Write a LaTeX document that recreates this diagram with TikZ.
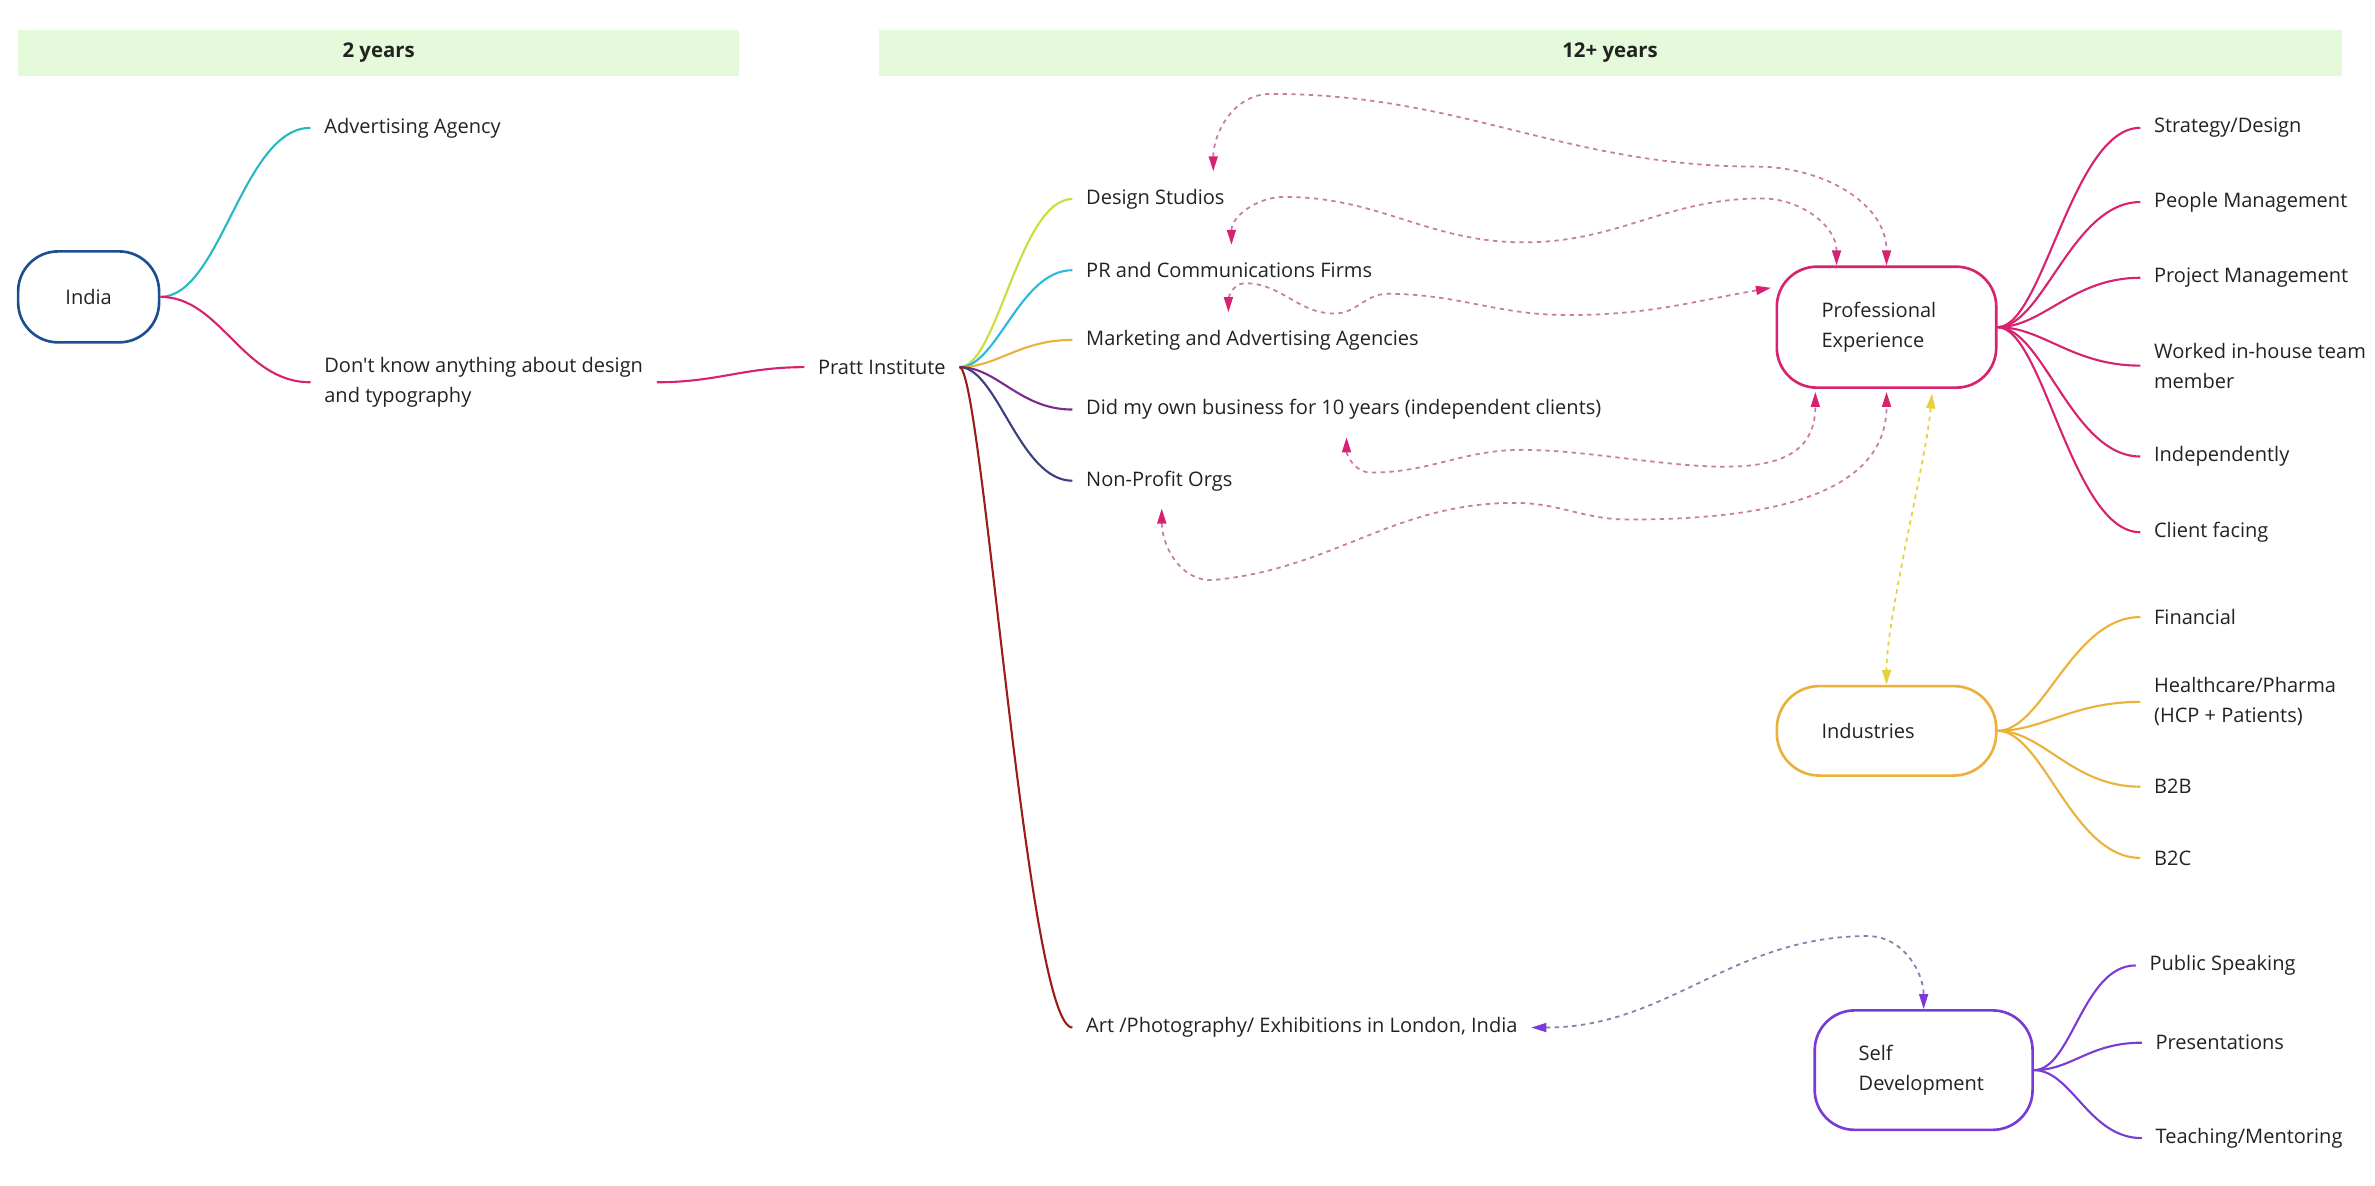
\documentclass[tikz,border=0pt]{standalone}
\usepackage{fontspec}
\setmainfont{Open Sans}[Ligatures=TeXOff]
\usetikzlibrary{arrows.meta,calc}

\definecolor{barfill}{HTML}{E4FADA}
\definecolor{indiablue}{HTML}{1B4F8F}
\definecolor{adcyan}{HTML}{27B9C2}
\definecolor{hotpink}{HTML}{D6226F}
\definecolor{limegreen}{HTML}{C6DF3C}
\definecolor{prcyan}{HTML}{2DB7DB}
\definecolor{amber}{HTML}{EBB13A}
\definecolor{plum}{HTML}{7B2B8E}
\definecolor{navyblue}{HTML}{3C3F7E}
\definecolor{artred}{HTML}{9B1C1C}
\definecolor{sdviolet}{HTML}{7A3BD4}
\definecolor{dashpink}{HTML}{C97AA8}
\definecolor{dashgold}{HTML}{E8CF3C}
\definecolor{dashviolet}{HTML}{8C7BAA}
\definecolor{ink}{HTML}{222222}

\tikzset{
  yearbar/.style={fill=barfill,minimum height=0.91cm,text=ink,
    font=\fontsize{11.6}{13}\selectfont\bfseries},
  leaf/.style={anchor=west,align=left,inner xsep=0.27cm,inner ysep=3pt,text=ink,yshift=-1.2pt},
  pill/.style={draw,line width=1.5pt,rounded corners=0.8cm,text=ink},
  hub/.style={pill,minimum width=4.39cm,minimum height=2.42cm,text width=2.6cm,align=left},
  branch/.style={line width=1.2pt},
  link/.style={dashpink,line width=1pt,dash pattern=on 2.5pt off 2.5pt,
    >={Triangle[length=3mm,width=1.8mm,color=hotpink]},<->},
  linkgold/.style={link,dashgold,>={Triangle[length=3mm,width=1.8mm,color=dashgold]}},
  linkviolet/.style={link,dashviolet,>={Triangle[length=3mm,width=1.8mm,color=sdviolet]}},
}

\begin{document}
\begin{tikzpicture}[x=0.0303cm,y=0.0303cm,font=\fontsize{11.4}{17}\selectfont]
\useasboundingbox (0,0) rectangle (1568,-783);
% year bands
\node[yearbar,minimum width=14.42cm] (band1) at (250,-35) {2 years};
\node[yearbar,minimum width=29.27cm] (band2) at (1063,-35) {12+ years};

% India
\node[pill,draw=indiablue,minimum width=2.82cm,minimum height=1.82cm] (india) at (58.5,-196) {India};
\node[leaf] (adv) at (205,-83) {Advertising Agency};
\node[leaf] (dk) at (205,-251) {Don't know anything about design\\and typography};
\draw[branch,adcyan] (india.east) .. controls +(40,0) and +(-45,0) .. (adv.west);
\draw[branch,hotpink] (india.east) .. controls +(40,0) and +(-45,0) .. (dk.west);

% Pratt
\node[leaf] (pratt) at (531,-241) {Pratt Institute};
\draw[branch,hotpink] (dk.east) .. controls +(40,0) and +(-40,0) .. (pratt.west);
\node[leaf] (ds) at (708,-130) {Design Studios};
\node[leaf] (pr) at (708,-177) {PR and Communications Firms};
\node[leaf] (mkt) at (708,-223) {Marketing and Advertising Agencies};
\node[leaf] (biz) at (708,-269) {Did my own business for 10 years (independent clients)};
\node[leaf] (np) at (708,-316) {Non-Profit Orgs};
\node[leaf] (art) at (708,-677) {Art /Photography/ Exhibitions in London, India};
\draw[branch,limegreen] (pratt.east) .. controls +(25,0) and +(-35,0) .. (ds.west);
\draw[branch,prcyan] (pratt.east) .. controls +(25,0) and +(-35,0) .. (pr.west);
\draw[branch,amber] (pratt.east) .. controls +(25,0) and +(-35,0) .. (mkt.west);
\draw[branch,plum] (pratt.east) .. controls +(25,0) and +(-35,0) .. (biz.west);
\draw[branch,navyblue] (pratt.east) .. controls +(25,0) and +(-35,0) .. (np.west);
\draw[branch,artred] (pratt.east) .. controls +(15,0) and +(-30,0) .. (art.west);

% Professional Experience
\node[hub,draw=hotpink] (pe) at (1245.5,-216) {Professional\\Experience};
\node[leaf] (strat) at (1413,-83) {Strategy/Design};
\node[leaf] (people) at (1413,-132) {People Management};
\node[leaf] (proj) at (1413,-182) {Project Management};
\node[leaf] (inhouse) at (1413,-240) {Worked in-house team\\member};
\node[leaf] (indep) at (1413,-300) {Independently};
\node[leaf] (client) at (1413,-350) {Client facing};
\draw[branch,hotpink] (pe.east) .. controls +(30,0) and +(-45,0) .. (strat.west);
\draw[branch,hotpink] (pe.east) .. controls +(30,0) and +(-45,0) .. (people.west);
\draw[branch,hotpink] (pe.east) .. controls +(30,0) and +(-45,0) .. (proj.west);
\draw[branch,hotpink] (pe.east) .. controls +(30,0) and +(-45,0) .. (inhouse.west);
\draw[branch,hotpink] (pe.east) .. controls +(30,0) and +(-45,0) .. (indep.west);
\draw[branch,hotpink] (pe.east) .. controls +(30,0) and +(-45,0) .. (client.west);

% Industries
\node[hub,draw=amber,minimum height=1.79cm,rounded corners=0.85cm] (ind) at (1245.5,-482.5) {Industries};
\node[leaf] (fin) at (1413,-406) {Financial};
\node[leaf] (health) at (1413,-462) {Healthcare/Pharma\\(HCP + Patients)};
\node[leaf] (btob) at (1413,-518) {B2B};
\node[leaf] (btoc) at (1413,-565) {B2C};
\draw[branch,amber] (ind.east) .. controls +(30,0) and +(-45,0) .. (fin.west);
\draw[branch,amber] (ind.east) .. controls +(30,0) and +(-45,0) .. (health.west);
\draw[branch,amber] (ind.east) .. controls +(30,0) and +(-45,0) .. (btob.west);
\draw[branch,amber] (ind.east) .. controls +(30,0) and +(-45,0) .. (btoc.west);

% Self Development
\node[hub,draw=sdviolet,minimum width=4.36cm,minimum height=2.39cm] (sd) at (1270,-706.5) {Self\\Development};
\node[leaf] (speak) at (1410,-636) {Public Speaking};
\node[leaf] (pres) at (1414,-687) {Presentations};
\node[leaf] (teach) at (1414,-750) {Teaching/Mentoring};
\draw[branch,sdviolet] (sd.east) .. controls +(25,0) and +(-35,0) .. (speak.west);
\draw[branch,sdviolet] (sd.east) .. controls +(25,0) and +(-35,0) .. (pres.west);
\draw[branch,sdviolet] (sd.east) .. controls +(25,0) and +(-35,0) .. (teach.west);

% dashed links
\draw[link] ($(ds.north west)+(93,8)$) to[out=90,in=180] (839,-62)
  to[out=0,in=180] (1160,-110) to[out=0,in=90] (pe.north);
\draw[link] ($(pr.north west)+(105,8)$) to[out=90,in=180] (848,-130)
  to[out=0,in=180] (1006,-160) to[out=0,in=180] (1163,-131)
  to[out=0,in=90] ($(pe.north)+(-33,0)$);
\draw[link] ($(mkt.north west)+(103,8)$) to[out=90,in=180] (822,-187)
  to[out=0,in=180] (881,-207) to[out=0,in=180] (916,-194)
  to[out=0,in=180] (1035,-208) to[out=0,in=190] ($(pe.west)+(-3,26)$);
\draw[link] ($(biz.south west)+(181,-8)$) to[out=-90,in=180] (905,-312)
  to[out=0,in=180] (1005,-297) to[out=0,in=-90] ($(pe.south)+(-47,-2)$);
\draw[link] ($(np.south west)+(59,-8)$) to[out=-90,in=180] (800,-383)
  to[out=5,in=180] (1000,-332) to[out=0,in=180] (1075,-343)
  to[out=0,in=-90] ($(pe.south)+(0,-2)$);
\draw[linkgold] ($(pe.south)+(30,-3)$) to[out=-95,in=90,looseness=0.6] (ind.north);
\draw[linkviolet] (art.east) to[out=0,in=180] (1233,-618) to[out=0,in=90] (sd.north);
\end{tikzpicture}
\end{document}
